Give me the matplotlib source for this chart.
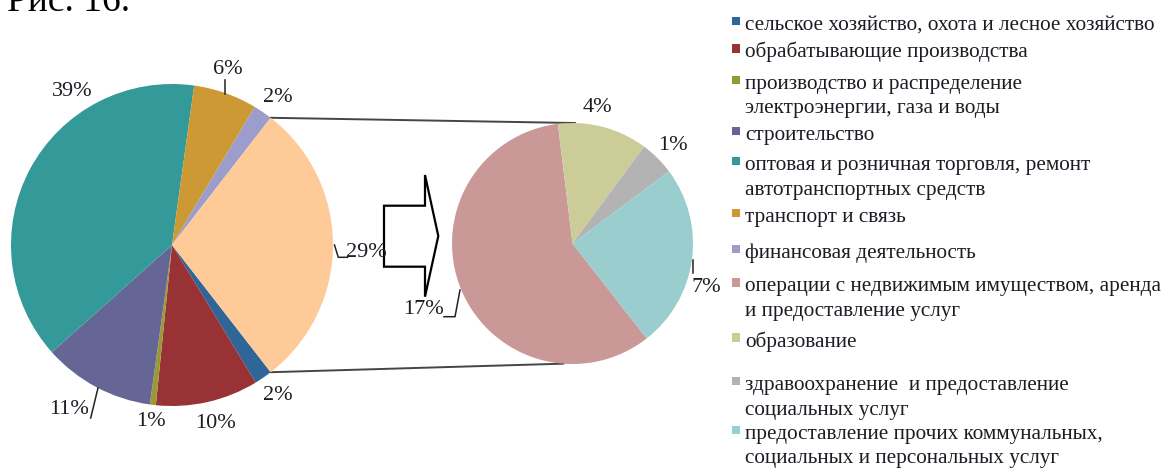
import matplotlib
matplotlib.use("Agg")
import matplotlib.pyplot as plt
from matplotlib.patches import Polygon, Rectangle
import numpy as np

# ---------------- data ----------------
main_labels = [
    "сельское хозяйство, охота и лесное хозяйство",
    "обрабатывающие производства",
    "производство и распределение\nэлектроэнергии, газа и воды",
    "строительство",
    "оптовая и розничная торговля, ремонт\nавтотранспортных средств",
    "транспорт и связь",
    "финансовая деятельность",
]
main_values = [1.8, 10.3, 0.6, 11.2, 38.8, 6.4, 1.9]

sub_labels = [
    "операции с недвижимым имуществом, аренда\nи предоставление услуг",
    "образование",
    "здравоохранение  и предоставление\nсоциальных услуг",
    "предоставление прочих коммунальных,\nсоциальных и персональных услуг",
]
sub_values = [17.0, 3.5, 1.35, 7.15]

main_colors = ["#2F6597", "#983234", "#9A9A34", "#656695", "#349999", "#CC9934", "#9D9DCC"]
other_color = "#FECB98"
sub_colors = ["#CB9898", "#CCCC99", "#B3B3B3", "#9ACDCD"]

# ---------------- layout ----------------
W, H = 1168, 468
SERIF = ["Liberation Serif", "DejaVu Serif"]
TXT = "#1c1c24"
LABEL_FS = 16
LEGEND_FS = 15.3

def Y(y):
    return H - y

fig = plt.figure(figsize=(W / 100, H / 100), dpi=100)
ax = fig.add_axes([0, 0, 1, 1])

c1, r1 = (172, Y(245)), 161
c2, r2 = (572.5, Y(243.5)), 120.5

other_value = sum(sub_values)
total = sum(main_values) + other_value

vals1 = main_values + [other_value]
cols1 = main_colors + [other_color]
half = other_value / total * 180.0
ax.pie(vals1, colors=cols1, center=c1, radius=r1, startangle=-half,
       counterclock=False, frame=True, wedgeprops=dict(linewidth=0))
ax.pie(sub_values, colors=sub_colors, center=c2, radius=r2, startangle=-52,
       counterclock=False, frame=True, wedgeprops=dict(linewidth=0))

# connector lines from "other" wedge edges to second pie
th = np.deg2rad(half)
p_top = (c1[0] + r1 * np.cos(th), c1[1] + r1 * np.sin(th))
p_bot = (c1[0] + r1 * np.cos(-th), c1[1] + r1 * np.sin(-th))
q_top = (c2[0] + r2 * np.cos(np.deg2rad(88.8)), c2[1] + r2 * np.sin(np.deg2rad(88.8)))
q_bot = (c2[0] + r2 * np.cos(np.deg2rad(265.7)), c2[1] + r2 * np.sin(np.deg2rad(265.7)))
ax.plot([p_top[0], q_top[0]], [p_top[1], q_top[1]], color="#454545", lw=1.4, zorder=0)
ax.plot([p_bot[0], q_bot[0]], [p_bot[1], q_bot[1]], color="#454545", lw=1.4, zorder=0)

# block arrow
arrow_pts = [(384, 205.7), (425, 205.7), (425, 175), (438.3, 236),
             (425, 296.7), (425, 266.7), (384, 266.7)]
ax.add_patch(Polygon([(x, Y(y)) for x, y in arrow_pts], closed=True,
                     facecolor="white", edgecolor="black", lw=1.6, zorder=3))

# percentage labels
def pct(v):
    return f"{v / total * 100:.0f}%"

main_label_pos = [(278, 395), (215, 423), (151, 422), (69, 410),
                  (72, 92), (228, 69), (278, 97)]
other_label_pos = (366, 252.5)
sub_label_pos = [(423, 310), (597, 108), (673, 146), (706, 288)]

for v, (x, y) in zip(main_values, main_label_pos):
    ax.text(x, Y(y), pct(v), ha="center", va="center", fontsize=LABEL_FS,
            family=SERIF, color=TXT, zorder=5)
ax.text(other_label_pos[0], Y(other_label_pos[1]), pct(other_value), ha="center",
        va="center", fontsize=LABEL_FS, family=SERIF, color=TXT, zorder=5)
for v, (x, y) in zip(sub_values, sub_label_pos):
    ax.text(x, Y(y), pct(v), ha="center", va="center", fontsize=LABEL_FS,
            family=SERIF, color=TXT, zorder=5)

# leader lines
leaders = [
    [(225, 80), (225, 94)],
    [(334.5, 245), (338.3, 257.3), (347.5, 257.3)],
    [(98, 388), (90.7, 418)],
    [(444, 316.7), (455, 316.7), (460, 290)],
    [(693, 260), (693, 273)],
]
for seg in leaders:
    xs = [p[0] for p in seg]
    ys = [Y(p[1]) for p in seg]
    ax.plot(xs, ys, color="#222222", lw=1.1, zorder=4)

# legend (manual, matching the reference's uneven spacing)
legend_labels = main_labels + sub_labels
legend_colors = main_colors + sub_colors
legend_baselines = [30, 57.5, 89, 140, 170, 222, 258, 291.5, 346.5, 390, 439]
line_step = 24.5
for lab, col, yb in zip(legend_labels, legend_colors, legend_baselines):
    ax.add_patch(Rectangle((732, Y(yb - 5)), 7.6, 8.2, facecolor=col,
                           edgecolor="none", zorder=5))
    for i, line in enumerate(lab.split("\n")):
        ax.text(745, Y(yb + i * line_step), line, ha="left", va="baseline",
                fontsize=LEGEND_FS, family=SERIF, color=TXT, zorder=5)

# caption remnant at the top edge (cut off in the reference as well)
ax.text(7, Y(11), "Рис. 16.", ha="left", va="baseline", fontsize=27,
        family=SERIF, color="black", zorder=5)

ax.set_xlim(0, W)
ax.set_ylim(0, H)
ax.set_aspect("equal", adjustable="box")
ax.axis("off")

fig.savefig("out.png", dpi=100, facecolor="white")
